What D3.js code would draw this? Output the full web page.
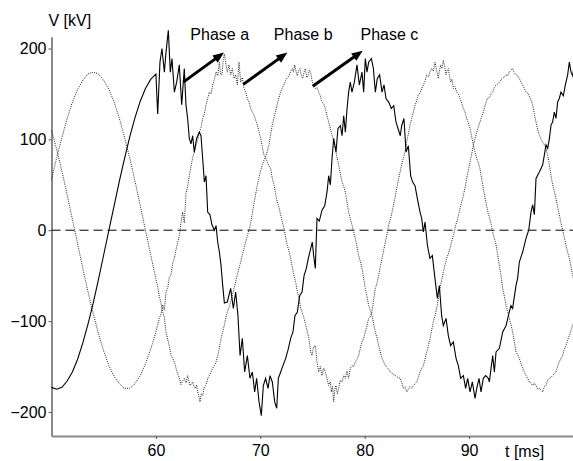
<!DOCTYPE html>
<html lang="en">
<head>
<meta charset="utf-8">
<title>Phase voltages</title>
<style type="text/css">
    body { margin: 0; background: #fff; }
    svg text { font-family: "Liberation Sans", Arial, sans-serif; font-size: 16px; fill: #000; }
</style>
<script type="text/javascript" src="https://d3js.org/d3.v7.min.js"></script>
</head>
<body>
<script type="text/javascript">
// time [ms] and voltage [kV]
let phaseATime = [50,50.5,51,51.5,52,52.5,53,53.5,54,54.5,55,55.5,56,56.5,57,57.5,58,58.5,59,59.5,60,
    60.17,60.39,60.58,60.81,60.97,61.19,61.38,61.54,61.77,61.99,62.24,62.47,62.72,62.88,63.04,63.2,63.36,63.52,63.68,63.9,
    64.16,64.32,64.48,64.64,64.8,64.96,65.18,65.37,65.6,65.76,65.92,66.08,66.24,66.4,66.56,66.84,67.16,67.42,67.64,67.86,
    68.06,68.28,68.5,68.76,69.01,69.24,69.46,69.65,69.88,70.1,70.29,70.51,70.74,70.93,71.15,71.38,71.57,71.73,71.95,72.17,
    72.43,72.65,72.91,73.13,73.32,73.55,73.77,74,74.19,74.41,74.6,74.83,74.98,75.11,75.27,75.43,75.65,75.91,76.17,76.39,
    76.55,76.71,76.87,77.03,77.25,77.44,77.67,77.83,77.99,78.15,78.31,78.46,78.62,78.78,79.01,79.26,79.49,79.74,79.9,80.06,
    80.22,80.38,80.64,80.83,81.02,81.21,81.43,81.66,81.85,82.04,82.3,82.55,82.78,83,83.19,83.41,83.54,83.76,83.96,84.18,
    84.4,84.59,84.82,85.04,85.3,85.46,85.62,85.78,86,86.25,86.48,86.73,86.96,87.15,87.37,87.53,87.79,88.01,88.23,88.49,
    88.75,88.97,89.19,89.45,89.67,89.86,90.09,90.31,90.57,90.73,90.95,91.14,91.36,91.59,91.84,91.94,92.1,92.26,92.42,92.58,
    92.9,93.22,93.54,93.85,94.01,94.17,94.49,94.65,94.81,95.13,95.45,95.71,95.93,96.09,96.25,96.41,96.73,97.05,97.37,97.53,
    97.69,97.85,98,98.16,98.32,98.48,98.64,98.8,99.03,99.22,99.44,99.6,99.76,99.92,100];
let phaseAVolt = [-173,-175,-173,-166,-156,-142,-124,-103,-80,-54,-27,0,27,54,79,103,124,142,156,166,172,
    128,185,200,174,196,220,174,189,152,163,182,138,178,138,123,101,95,104,86,101,
    108,104,79,53,60,20,17,6,0,5,-13,-24,-39,-61,-80,-79,-64,-86,-68,-94,
    -138,-119,-156,-138,-163,-156,-178,-163,-189,-204,-171,-163,-174,-160,-167,-189,-196,-163,-156,-149,
    -141,-132,-119,-112,-94,-90,-72,-68,-50,-42,-31,-20,-13,-28,-42,13,10,22,27,42,
    60,50,79,101,86,112,115,104,126,108,134,152,163,152,163,182,160,174,152,189,
    174,185,189,178,152,167,171,152,160,145,141,134,137,119,112,104,115,123,86,93,
    60,53,49,35,20,13,-2,9,-16,-31,-28,-53,-75,-61,-94,-105,-97,-116,-127,-123,
    -141,-149,-163,-160,-174,-163,-178,-167,-185,-174,-163,-178,-163,-160,-163,-167,-152,-138,-156,-134,
    -130,-112,-105,-90,-83,-86,-61,-53,-35,-24,-9,0,20,28,17,57,64,72,94,90,
    101,116,119,130,123,141,145,152,148,160,171,185,174,170,176];

let phaseBTime = [50,50.5,51,51.5,52,52.5,53,53.5,54,54.5,55,55.5,56,56.5,57,57.5,58,58.5,59,59.5,60,
    60.17,60.33,60.49,60.65,60.81,60.97,61.13,61.29,61.45,61.61,61.77,61.93,62.09,62.25,62.41,62.56,62.72,62.88,63.04,63.2,
    63.36,63.52,63.68,63.84,64,64.16,64.32,64.48,64.64,64.8,64.96,65.12,65.28,65.44,65.6,65.76,65.92,66.08,66.2,66.33,
    66.45,66.56,66.68,66.84,67,67.16,67.32,67.48,67.64,67.8,67.96,68.12,68.28,68.44,68.6,68.76,68.92,69.08,69.24,69.4,
    69.56,69.72,69.88,70.04,70.2,70.35,70.51,70.67,70.83,70.99,71.15,71.31,71.47,71.63,71.79,71.95,72.11,72.27,72.43,72.59,
    72.75,72.91,73.07,73.23,73.39,73.55,73.71,73.87,74.03,74.19,74.35,74.51,74.67,74.83,74.95,75.11,75.27,75.43,75.59,75.75,
    75.91,76.07,76.23,76.39,76.55,76.71,76.8,76.92,77.03,77.14,77.25,77.38,77.51,77.67,77.83,77.99,78.15,78.3,78.46,78.62,
    78.78,78.94,79.1,79.26,79.42,79.58,79.74,79.9,80.06,80.22,80.38,80.54,80.7,80.86,81.02,81.18,81.34,81.5,81.66,81.82,
    81.98,82.14,82.3,82.46,82.62,82.78,82.94,83.1,83.25,83.41,83.57,83.72,83.86,84.02,84.18,84.34,84.5,84.66,84.82,84.98,
    85.14,85.3,85.46,85.62,85.78,85.94,86.1,86.25,86.41,86.57,86.73,86.89,87.05,87.15,87.28,87.4,87.53,87.66,87.79,87.9,
    88.01,88.12,88.23,88.36,88.49,88.65,88.81,88.97,89.13,89.29,89.45,89.61,89.77,89.93,90.09,90.25,90.41,90.57,90.73,90.89,
    91.04,91.2,91.36,91.52,91.68,91.84,92,92.16,92.26,92.42,92.58,92.74,92.9,93.06,93.22,93.38,93.54,93.7,93.85,94.01,
    94.17,94.33,94.49,94.65,94.81,94.97,95.13,95.29,95.45,95.61,95.77,95.93,96.09,96.25,96.41,96.57,96.73,96.89,97.05,97.21,
    97.37,97.53,97.69,97.85,98,98.16,98.32,98.48,98.64,98.8,98.96,99.12,99.28,99.44,99.6,99.76,99.92,100];
let phaseBVolt = [110,89,65,39,12,-15,-42,-68,-92,-114,-133,-149,-161,-169,-174,-174,-169,-160,-147,-131,-112,
    -104,-97,-92,-82,-88,-68,-64,-52,-49,-36,-31,-21,-13,-6,9,20,8,40,48,60,
    70,80,86,94,99,108,113,123,128,138,145,152,150,160,166,174,170,185,172,171,
    188,194,185,174,182,171,178,167,171,160,185,163,168,156,152,145,141,134,130,127,
    121,116,108,101,91,83,80,75,71,68,57,50,40,31,25,17,9,2,-8,-17,
    -23,-31,-41,-50,-57,-68,-75,-86,-91,-97,-104,-112,-120,-134,-138,-128,-127,-145,-156,-150,
    -160,-152,-156,-163,-171,-167,-178,-172,-189,-175,-171,-180,-174,-165,-167,-160,-163,-155,-163,-152,
    -149,-150,-145,-142,-138,-130,-123,-119,-112,-105,-97,-95,-90,-76,-64,-58,-50,-40,-31,-22,
    -13,-4,6,12,20,29,38,48,57,65,74,80,86,97,106,116,123,130,137,143,
    149,151,156,160,164,171,169,174,178,175,185,176,167,175,182,178,187,180,171,176,
    178,170,163,166,156,158,152,150,145,140,134,130,123,118,112,103,94,86,79,74,
    68,57,46,36,27,18,12,4,-2,-9,-16,-27,-39,-50,-64,-73,-83,-90,-97,-104,
    -112,-122,-134,-137,-141,-147,-152,-156,-160,-163,-167,-168,-171,-168,-171,-175,-174,-176,-178,-172,
    -171,-165,-163,-162,-160,-158,-156,-150,-145,-141,-138,-131,-127,-121,-116,-110,-105,-102];

let phaseCTime = [50,50.5,51,51.5,52,52.5,53,53.5,54,54.5,55,55.5,56,56.5,57,57.5,58,58.5,59,59.5,60,
    60.17,60.33,60.49,60.65,60.81,60.97,61.13,61.29,61.45,61.61,61.77,61.93,62.09,62.25,62.4,62.56,62.72,62.88,63.04,63.27,
    63.52,63.65,63.78,63.9,64,64.11,64.22,64.35,64.48,64.6,64.74,64.86,64.96,65.12,65.28,65.44,65.6,65.76,65.92,66.08,
    66.24,66.4,66.56,66.7,66.84,67,67.16,67.32,67.48,67.64,67.8,67.96,68.12,68.28,68.44,68.6,68.76,68.92,69.08,69.24,
    69.4,69.56,69.72,69.88,70.04,70.2,70.35,70.51,70.67,70.83,70.99,71.15,71.31,71.47,71.63,71.79,71.95,72.11,72.27,72.43,
    72.59,72.75,72.91,73.07,73.18,73.29,73.42,73.55,73.68,73.8,73.93,74.06,74.19,74.31,74.44,74.57,74.7,74.82,74.95,75.08,
    75.27,75.43,75.59,75.75,75.91,76.07,76.23,76.39,76.55,76.71,76.87,77.03,77.19,77.35,77.51,77.67,77.83,77.99,78.15,78.3,
    78.46,78.62,78.78,78.94,79.1,79.26,79.42,79.58,79.74,79.9,80.06,80.22,80.38,80.54,80.7,80.86,81.02,81.18,81.34,81.5,
    81.66,81.82,81.98,82.22,82.46,82.7,82.94,83.17,83.41,83.55,83.7,83.86,84.02,84.18,84.34,84.5,84.66,84.82,84.98,85.14,
    85.3,85.46,85.62,85.78,85.94,86.1,86.26,86.41,86.57,86.73,86.89,87.05,87.21,87.37,87.53,87.69,87.85,88.01,88.17,88.33,
    88.49,88.65,88.81,88.97,89.13,89.29,89.45,89.61,89.77,89.93,90.09,90.25,90.41,90.57,90.73,90.89,91.04,91.2,91.36,91.55,
    91.75,91.94,92.1,92.26,92.42,92.58,92.74,92.9,93.06,93.22,93.38,93.54,93.7,93.85,94.01,94.17,94.33,94.49,94.65,94.81,
    94.97,95.13,95.29,95.45,95.61,95.77,95.93,96.09,96.25,96.41,96.57,96.73,96.89,97.05,97.21,97.37,97.53,97.69,97.85,98,
    98.16,98.32,98.48,98.64,98.8,98.96,99.12,99.28,99.44,99.6,99.76,99.92,100];
let phaseCVolt = [56,80,102,123,141,155,165,172,174,172,165,155,141,123,102,79,54,27,0,-27,-54,
    -62,-73,-80,-90,-96,-112,-120,-128,-138,-141,-145,-152,-158,-163,-170,-166,-163,-168,-160,-171,
    -167,-172,-174,-170,-178,-182,-189,-180,-182,-174,-171,-168,-163,-160,-156,-152,-149,-145,-138,-130,
    -119,-112,-104,-96,-90,-85,-79,-72,-64,-57,-49,-42,-35,-27,-20,-13,-6,0,8,19,
    30,40,50,58,66,72,77,81,87,94,105,116,124,131,139,146,152,157,160,165,
    168,170,175,178,174,182,175,170,176,178,170,167,174,178,168,170,176,174,165,160,
    156,157,152,148,141,139,134,126,119,112,105,97,90,80,72,62,53,48,42,31,
    20,13,6,-2,-9,-18,-28,-34,-42,-53,-64,-73,-83,-88,-94,-103,-112,-119,-127,-134,
    -141,-145,-149,-152,-156,-158,-160,-162,-163,-168,-174,-172,-178,-175,-172,-174,-171,-169,-167,-162,
    -156,-152,-149,-142,-134,-127,-119,-110,-101,-94,-86,-75,-64,-55,-46,-38,-31,-26,-20,-12,
    -6,2,9,16,24,31,38,47,57,66,75,84,94,101,108,114,119,125,130,138,
    145,146,150,152,157,160,161,163,166,167,169,171,170,174,176,178,173,171,170,167,
    163,160,156,152,151,148,143,138,128,119,111,105,100,97,94,90,82,72,60,50,
    43,35,26,17,8,0,-8,-17,-24,-31,-40,-50,-54];

let xTicks = [60, 70, 80, 90];
let yTicks = [-200, -100, 0, 100, 200];
let phaseNames = ["Phase a", "Phase b", "Phase c"];

// annotation anchors in data units: label start [t, V], arrow tail and tip [t, V]
let labelAt = [[63.3, 209.5], [71.3, 209.5], [79.6, 209.5]];
let arrowFrom = [[62.62, 163], [68.37, 160.5], [75.02, 158.5]];
let arrowTo = [[66.52, 195.5], [72.59, 195.5], [79.81, 197.5]];

let w = 573;
let h = 461;

let svg = d3.select("body").append("svg")
    .attr("width", w)
    .attr("height", h)
    .style("background-color", "white");

let x = d3.scaleLinear().domain([50, 100]).range([51.5, 573.5]);
let y = d3.scaleLinear().domain([-226.5, 213]).range([436, 36.7]);

// axes
let xAxis = svg.append("g")
    .attr("transform", "translate(0," + y(-226.5) + ")")
    .call(d3.axisBottom(x).tickValues(xTicks).tickSize(3).tickSizeOuter(0).tickPadding(6));
let yAxis = svg.append("g")
    .attr("transform", "translate(" + x(50) + ",0)")
    .call(d3.axisLeft(y).tickValues(yTicks).tickSize(3).tickSizeOuter(0).tickPadding(2));

svg.selectAll(".domain").attr("stroke", "#8a8a8a").attr("stroke-width", 2);
svg.selectAll(".tick line").attr("stroke", "#555");
svg.selectAll(".tick text")
    .attr("font-size", 16)
    .attr("font-family", "Liberation Sans, Arial, sans-serif")
    .attr("fill", "#000");

svg.append("text").attr("x", 48.5).attr("y", 26).text("V [kV]");
svg.append("text").attr("x", 505).attr("y", 457).text("t [ms]");

// zero line
svg.append("line")
    .attr("x1", x(50)).attr("x2", x(100))
    .attr("y1", y(0)).attr("y2", y(0))
    .attr("stroke", "#000")
    .attr("stroke-width", 1)
    .attr("stroke-dasharray", "9,5");

let line = d3.line()
    .x(function (d) { return x(d[0]); })
    .y(function (d) { return y(d[1]); });

svg.append("path")
    .datum(d3.zip(phaseBTime, phaseBVolt))
    .attr("d", line)
    .attr("fill", "none")
    .attr("stroke", "#222")
    .attr("stroke-width", 1)
    .attr("stroke-dasharray", "1,1.2");

svg.append("path")
    .datum(d3.zip(phaseCTime, phaseCVolt))
    .attr("d", line)
    .attr("fill", "none")
    .attr("stroke", "#222")
    .attr("stroke-width", 1)
    .attr("stroke-dasharray", "1,1.2");

svg.append("path")
    .datum(d3.zip(phaseATime, phaseAVolt))
    .attr("d", line)
    .attr("fill", "none")
    .attr("stroke", "#000")
    .attr("stroke-width", 1.1);

// labels and arrows
svg.selectAll("text.phase")
    .data(phaseNames)
    .enter()
    .append("text")
    .attr("class", "phase")
    .attr("x", function (d, i) { return x(labelAt[i][0]); })
    .attr("y", function (d, i) { return y(labelAt[i][1]); })
    .text(function (d) { return d; });

phaseNames.forEach(function (d, i) {
    let x0 = x(arrowFrom[i][0]), y0 = y(arrowFrom[i][1]);
    let x1 = x(arrowTo[i][0]), y1 = y(arrowTo[i][1]);
    let len = Math.hypot(x1 - x0, y1 - y0);
    let ux = (x1 - x0) / len, uy = (y1 - y0) / len;
    let head = 11, half = 4.5;
    svg.append("line")
        .attr("x1", x0).attr("y1", y0)
        .attr("x2", x1 - ux * (head - 2)).attr("y2", y1 - uy * (head - 2))
        .attr("stroke", "#000")
        .attr("stroke-width", 3);
    let bx = x1 - ux * head, by = y1 - uy * head;
    svg.append("path")
        .attr("d", "M" + x1 + "," + y1 +
            "L" + (bx - uy * half) + "," + (by + ux * half) +
            "L" + (bx + uy * half) + "," + (by - ux * half) + "Z")
        .attr("fill", "#000");
});
</script>
</body>
</html>
